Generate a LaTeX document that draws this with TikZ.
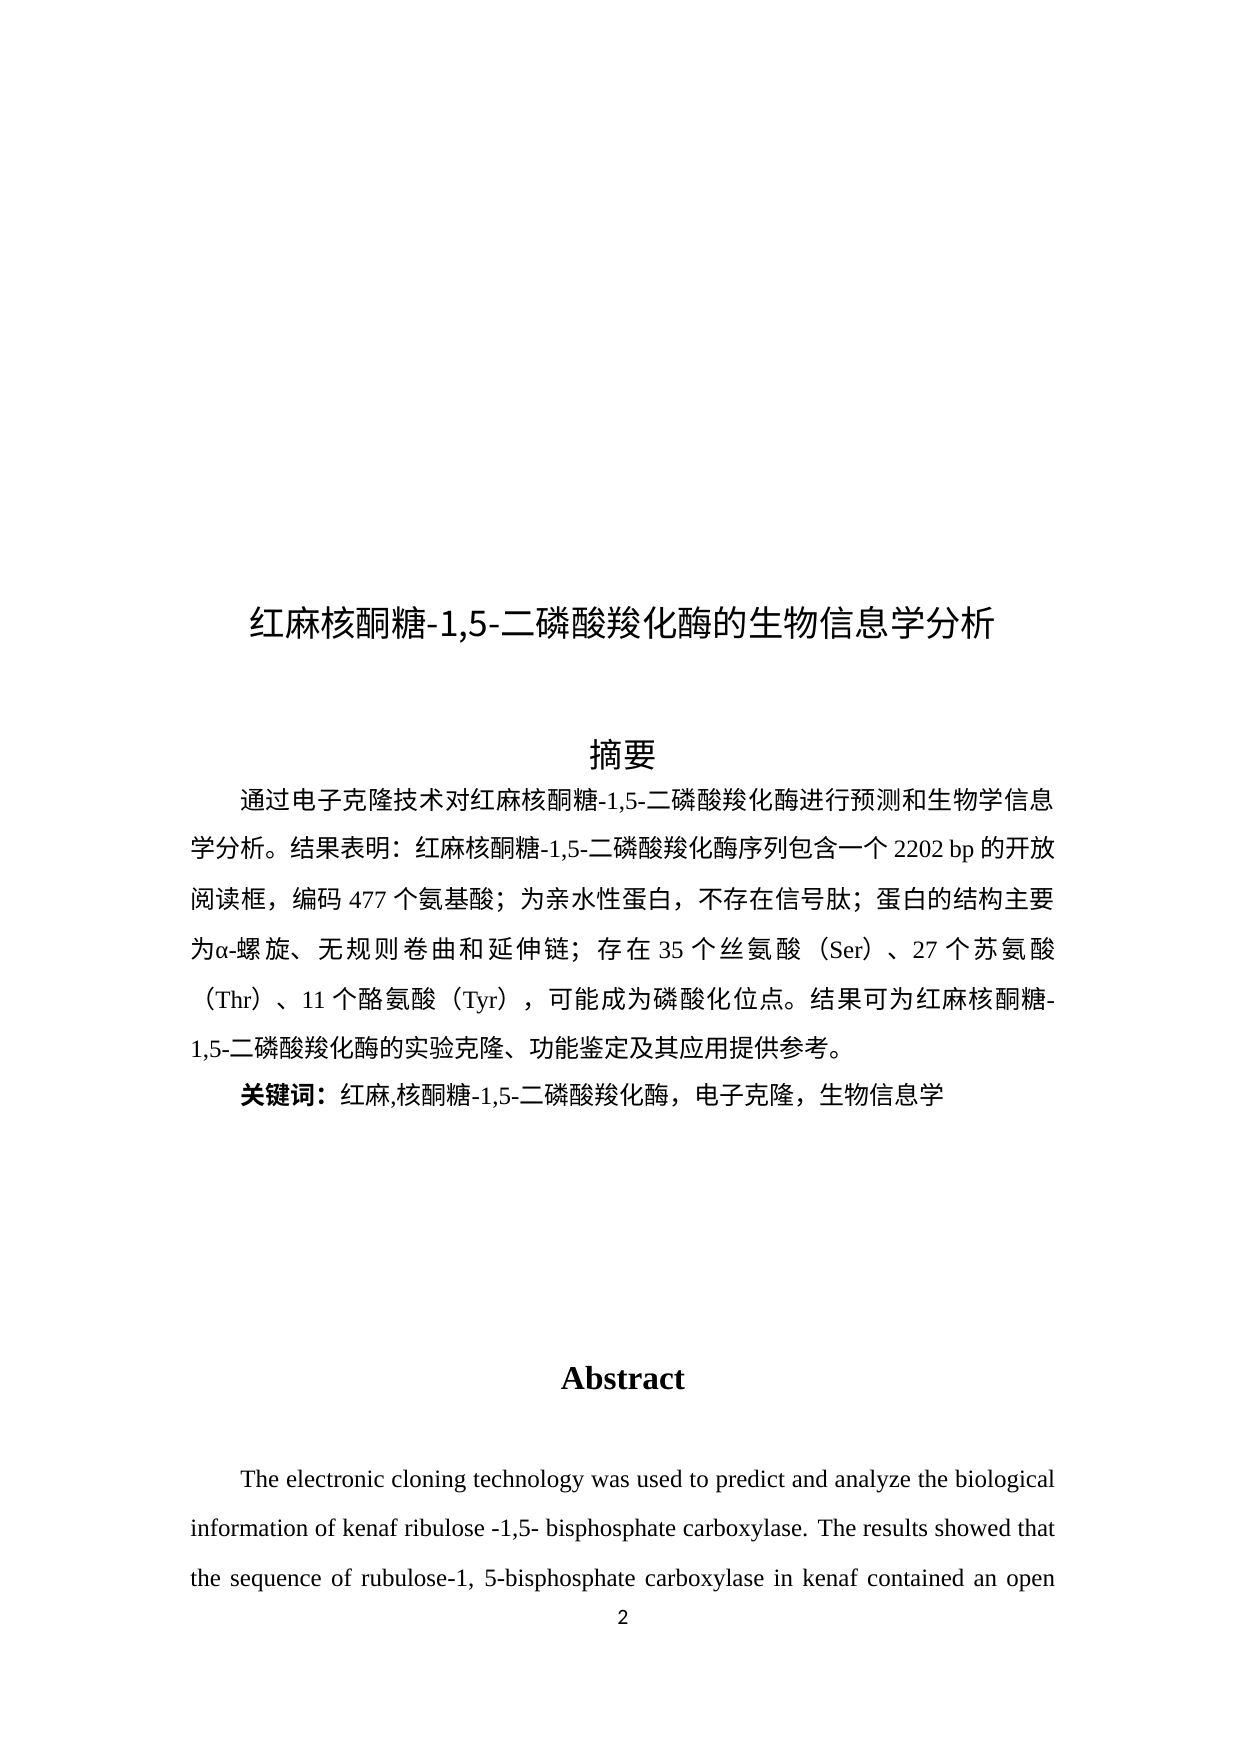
\documentclass[tikz,border=0pt]{standalone}
\usepackage{fontspec}
\setmainfont{Liberation Serif}
\newfontfamily\cjk{Noto Sans CJK SC}
\newfontfamily\cjkb{Noto Sans CJK SC Bold}
\newfontfamily\pgn{Carlito}
\newcommand\zh[1]{{\cjk #1}}
\newcommand\jl[1]{\parbox{415pt}{\XeTeXlinebreaklocale "zh"\XeTeXlinebreakskip=0pt plus 4pt\parfillskip=0pt\parindent=0pt\relax #1}}
\newcommand\el[1]{\hbox to 415pt{#1}}
\begin{document}
\begin{tikzpicture}[x=0.48pt,y=-0.48pt,
  ln/.style={anchor=west,inner sep=0pt,font=\fontsize{12pt}{14pt}\selectfont}]
\useasboundingbox (0,0) rectangle (1240,1754);
\node[inner sep=0pt,font=\fontsize{17pt}{20pt}\cjk] (title) at (623,625) {红麻核酮糖-1,5-二磷酸羧化酶的生物信息学分析};
\node[inner sep=0pt,font=\fontsize{16pt}{19pt}\cjk] (zy) at (623,755) {摘要};
\node[ln] (l1) at (190,801) {\jl{\hspace*{24pt}\zh{通过电子克隆技术对红麻核酮糖}-1,5-\zh{二磷酸羧化酶进行预测和生物学信息}}};
\node[ln] (l2) at (190,850) {\jl{\zh{学分析。结果表明：红麻核酮糖}-1,5-\zh{二磷酸羧化酶序列包含一个} 2202 bp \zh{的开放}}};
\node[ln] (l3) at (190,900) {\jl{\zh{阅读框，编码} 477 \zh{个氨基酸；为亲水性蛋白，不存在信号肽；蛋白的结构主要}}};
\node[ln] (l4) at (190,950) {\jl{\zh{为}α-\zh{螺旋、无规则卷曲和延伸链；存在} 35 \zh{个丝氨酸（}Ser\zh{）、}27 \zh{个苏氨酸}}};
\node[ln] (l5) at (190,1000) {\jl{\zh{（}Thr\zh{）、}11 \zh{个酪氨酸（}Tyr\zh{），可能成为磷酸化位点。结果可为红麻核酮糖}-}};
\node[ln] (l6) at (190,1049) {1,5-\zh{二磷酸羧化酶的实验克隆、功能鉴定及其应用提供参考。}};
\node[ln] (kw) at (190,1096) {\hspace*{24pt}{\cjkb 关键词：}\zh{红麻},\zh{核酮糖}-1,5-\zh{二磷酸羧化酶，电子克隆，生物信息学}};
\node[inner sep=0pt,font=\fontsize{16pt}{19pt}\selectfont\bfseries] (ab) at (623,1378) {Abstract};
\node[ln] (e1) at (190,1482) {\el{\hspace*{24pt}The electronic cloning technology was used to predict and analyze the biological}};
\node[ln] (e2) at (190,1530) {\el{information of kenaf ribulose -1,5- bisphosphate carboxylase. The results showed that}};
\node[ln] (e3) at (190,1580) {\el{the sequence of rubulose-1, 5-bisphosphate carboxylase in kenaf contained an open}};
\node[inner sep=0pt,font=\fontsize{10.5pt}{12pt}\pgn] (pg) at (623,1617) {2};
\end{tikzpicture}
\end{document}
